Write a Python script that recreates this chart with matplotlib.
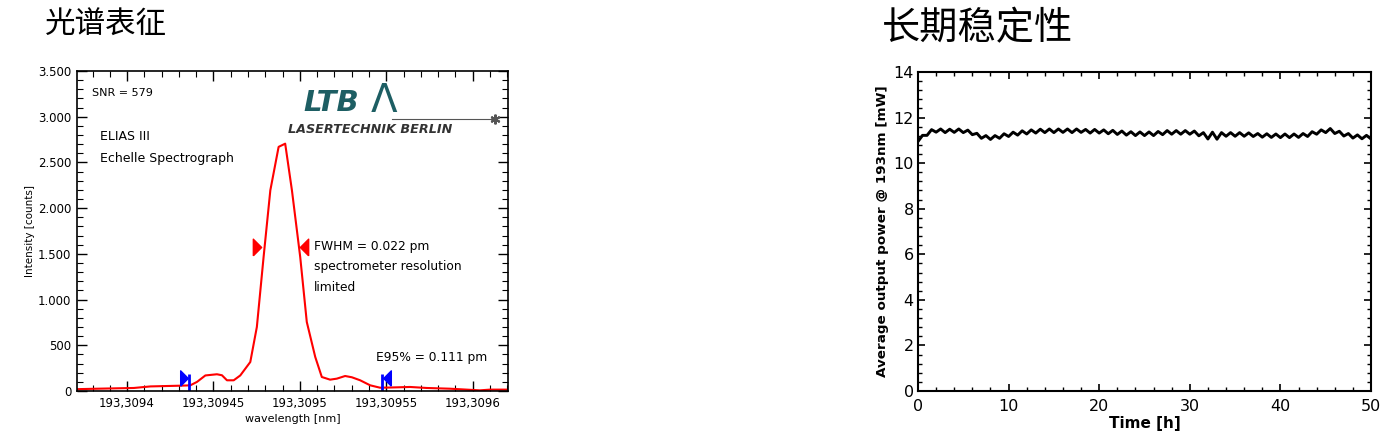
import numpy as np
import matplotlib
matplotlib.use("Agg")
from matplotlib import pyplot as plt
from matplotlib.ticker import FuncFormatter, MultipleLocator

plt.rcParams['font.family'] = ['DejaVu Sans', 'Noto Sans CJK SC']

# Спектр (ELIAS III)
wavelength = [193.3093711, 193.3093827, 193.3094039, 193.3094135, 193.3094308, 193.3094366,
              193.3094405, 193.3094453, 193.3094520, 193.3094549, 193.3094578, 193.3094617,
              193.3094655, 193.3094713, 193.3094751, 193.3094790, 193.3094829, 193.3094877,
              193.3094915, 193.3094954, 193.3095002, 193.3095040, 193.3095089, 193.3095127,
              193.3095175, 193.3095214, 193.3095262, 193.3095301, 193.3095349, 193.3095407,
              193.3095464, 193.3095522, 193.3095638, 193.3095734, 193.3095869, 193.3096042,
              193.3096100, 193.3096206]
intensity = [20, 25, 33, 50, 58, 62, 100, 170, 183, 172, 117, 117, 170, 317, 700, 1465, 2195,
             2670, 2705, 2195, 1465, 755, 372, 153, 124, 135, 164, 150, 117, 62, 36, 38, 44,
             33, 25, 7, 15, 15]

fwhm_left, fwhm_right, fwhm_level = 193.3094751, 193.3095021, 1570
e95_left, e95_right, e95_level = 193.3094360, 193.3095474, 140

# Долговременная стабильность
time_h = [0.0, 0.5, 1.0, 1.5, 2.0, 2.5, 3.0, 3.5, 4.0, 4.5, 5.0, 5.5, 6.0, 6.5, 7.0, 7.5,
          8.0, 8.5, 9.0, 9.5, 10.0, 10.5, 11.0, 11.5, 12.0, 12.5, 13.0, 13.5, 14.0, 14.5,
          15.0, 15.5, 16.0, 16.5, 17.0, 17.5, 18.0, 18.5, 19.0, 19.5, 20.0, 20.5, 21.0, 21.5,
          22.0, 22.5, 23.0, 23.5, 24.0, 24.5, 25.0, 25.5, 26.0, 26.5, 27.0, 27.5, 28.0, 28.5,
          29.0, 29.5, 30.0, 30.5, 31.0, 31.5, 32.0, 32.5, 33.0, 33.5, 34.0, 34.5, 35.0, 35.5,
          36.0, 36.5, 37.0, 37.5, 38.0, 38.5, 39.0, 39.5, 40.0, 40.5, 41.0, 41.5, 42.0, 42.5,
          43.0, 43.5, 44.0, 44.5, 45.0, 45.5, 46.0, 46.5, 47.0, 47.5, 48.0, 48.5, 49.0, 49.5,
          50.0]
power_mw = [10.95, 11.22, 11.22, 11.47, 11.36, 11.50, 11.34, 11.49, 11.35, 11.50, 11.34, 11.45,
            11.25, 11.31, 11.09, 11.21, 11.04, 11.21, 11.09, 11.29, 11.17, 11.36, 11.23, 11.42,
            11.28, 11.46, 11.32, 11.49, 11.34, 11.50, 11.34, 11.50, 11.35, 11.50, 11.34, 11.50,
            11.35, 11.48, 11.32, 11.48, 11.32, 11.46, 11.29, 11.44, 11.26, 11.41, 11.23, 11.38,
            11.21, 11.37, 11.21, 11.37, 11.21, 11.39, 11.25, 11.43, 11.27, 11.43, 11.27, 11.43,
            11.27, 11.41, 11.20, 11.34, 11.06, 11.36, 11.05, 11.34, 11.18, 11.34, 11.18, 11.34,
            11.18, 11.33, 11.17, 11.30, 11.14, 11.29, 11.13, 11.28, 11.12, 11.28, 11.12, 11.28,
            11.13, 11.30, 11.17, 11.38, 11.27, 11.46, 11.34, 11.52, 11.30, 11.40, 11.19, 11.30,
            11.10, 11.24, 11.07, 11.22, 11.06]

fig = plt.figure(figsize=(14, 4.47), dpi=100)

# ---------- левый график ----------
ax1 = fig.add_axes([0.055, 0.1253, 0.3079, 0.7159])
ax1.plot(wavelength, intensity, color='red', lw=1.5)

# маркеры FWHM и E95 (вытянутые треугольники)
tri_r = [(-1, -2), (1, 0), (-1, 2), (-1, -2)]
tri_l = [(1, -2), (-1, 0), (1, 2), (1, -2)]
ax1.plot([fwhm_left], [fwhm_level], marker=tri_r, color='red', ms=12, ls='none')
ax1.plot([fwhm_right], [fwhm_level], marker=tri_l, color='red', ms=12, ls='none')
ax1.plot([e95_left - 0.0000032], [e95_level], marker=tri_r, color='blue', ms=11, ls='none')
ax1.plot([e95_right + 0.0000028], [e95_level], marker=tri_l, color='blue', ms=11, ls='none')
ax1.vlines([e95_left, e95_right], 0, 190, color='blue', lw=2)

ax1.set_xlim(193.309371, 193.3096205)
ax1.set_ylim(0, 3500)
ax1.xaxis.set_major_locator(MultipleLocator(0.00005))
ax1.xaxis.set_minor_locator(MultipleLocator(0.00001))
ax1.yaxis.set_major_locator(MultipleLocator(500))
ax1.yaxis.set_minor_locator(MultipleLocator(100))
ax1.xaxis.set_major_formatter(FuncFormatter(lambda v, p: ('%.5f' % v).rstrip('0').replace('.', ',')))
ax1.yaxis.set_major_formatter(FuncFormatter(lambda v, p: '{:,.0f}'.format(v).replace(',', '.')))
ax1.tick_params(which='both', direction='in', top=True, right=True, labelsize=8.5, pad=4)
ax1.tick_params(which='major', length=7, width=1)
ax1.tick_params(which='minor', length=4, width=0.8)
for s in ax1.spines.values():
    s.set_linewidth(1.2)
ax1.set_xlabel('wavelength [nm]', fontsize=8, labelpad=3)
ax1.set_ylabel('Intensity [counts]', fontsize=7.5, labelpad=2)

ax1.text(0.035, 0.93, 'SNR = 579', transform=ax1.transAxes, fontsize=8, va='center')
ax1.text(0.053, 0.795, 'ELIAS III', transform=ax1.transAxes, fontsize=9, va='center')
ax1.text(0.053, 0.727, 'Echelle Spectrograph', transform=ax1.transAxes, fontsize=9, va='center')
ax1.text(0.55, 0.472, 'FWHM = 0.022 pm\nspectrometer resolution\nlimited', transform=ax1.transAxes,
         fontsize=8.8, va='top', linespacing=1.75)
ax1.text(0.694, 0.105, 'E95% = 0.111 pm', transform=ax1.transAxes, fontsize=8.8, va='center')

# логотип LTB
ax1.text(0.525, 0.90, 'LTB', transform=ax1.transAxes, fontsize=21, fontweight='bold',
         style='italic', color='#1d5e63', va='center')
ax1.text(0.682, 0.905, 'Λ', transform=ax1.transAxes, fontsize=28, color='#1d5e63', va='center')
ax1.plot([0.73, 0.97], [0.85, 0.85], transform=ax1.transAxes, color='#555555', lw=0.8)
ax1.plot([0.97], [0.85], transform=ax1.transAxes, marker=(6, 2, 0), color='#555555', ms=7, mew=1.5)
ax1.text(0.49, 0.816, 'LASERTECHNIK BERLIN', transform=ax1.transAxes, fontsize=9.2,
         fontweight='bold', style='italic', color='#333333', va='center')

# ---------- правый график ----------
ax2 = fig.add_axes([0.6557, 0.1253, 0.3236, 0.7136])
ax2.plot(time_h[:4], power_mw[:4], color='#2a7fd0', lw=1.2)
ax2.plot(time_h, power_mw, color='black', lw=2.1)
ax2.set_xlim(0, 50)
ax2.set_ylim(0, 14)
ax2.xaxis.set_major_locator(MultipleLocator(10))
ax2.xaxis.set_minor_locator(MultipleLocator(2))
ax2.yaxis.set_major_locator(MultipleLocator(2))
ax2.yaxis.set_minor_locator(MultipleLocator(0.4))
ax2.tick_params(which='both', direction='in', top=True, right=True, labelsize=11.5, pad=3)
ax2.tick_params(axis='x', which='both', pad=6)
ax2.tick_params(which='major', length=5, width=1.2)
ax2.tick_params(which='minor', length=3, width=1)
for s in ax2.spines.values():
    s.set_linewidth(1.5)
ax2.set_xlabel('Time [h]', fontsize=11, fontweight='bold', labelpad=1)
ax2.set_ylabel('Average output power @ 193nm [mW]', fontsize=9.7, fontweight='bold', labelpad=3)

# заголовки
fig.text(0.032, 0.944, '光谱表征', fontsize=22, family=['Noto Sans CJK SC'], va='center')
fig.text(0.630, 0.935, '长期稳定性', fontsize=27.5, family=['Noto Sans CJK SC'],
         fontweight='light', va='center')

fig.savefig('out.png', dpi=100)
